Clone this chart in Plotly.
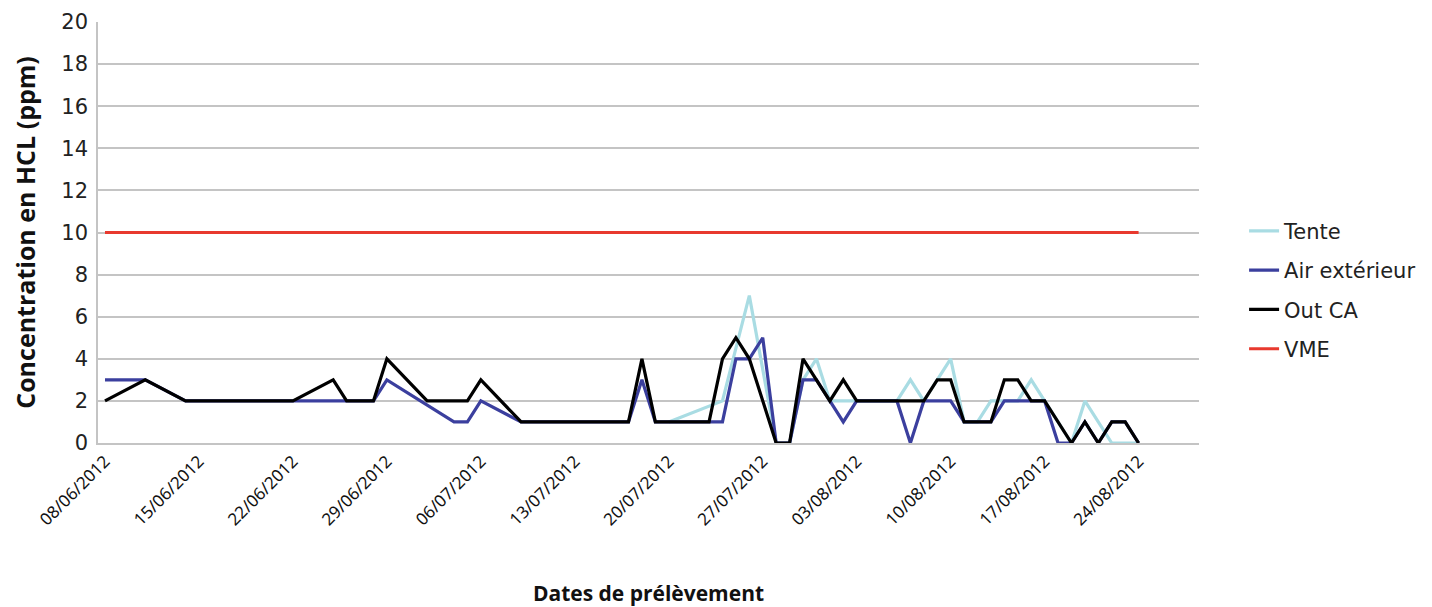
import plotly.graph_objects as go

# Sampling dates and concentrations (ppm)
tente_dates = ["2012-07-20", "2012-07-24", "2012-07-26", "2012-07-28", "2012-07-29",
               "2012-07-30", "2012-07-31", "2012-08-01", "2012-08-02", "2012-08-03",
               "2012-08-06", "2012-08-07", "2012-08-08", "2012-08-09", "2012-08-10",
               "2012-08-11", "2012-08-12", "2012-08-13", "2012-08-14", "2012-08-15",
               "2012-08-16", "2012-08-17", "2012-08-19", "2012-08-20", "2012-08-21",
               "2012-08-22", "2012-08-23", "2012-08-24"]
tente_values = [1, 2, 7, 0, 0, 3, 4, 2, 2, 2, 2, 3, 2, 3, 4, 1, 1, 2, 2, 2, 3, 2, 0, 2, 1, 0, 0, 0]

air_dates = ["2012-06-08", "2012-06-11", "2012-06-14", "2012-06-22", "2012-06-26",
             "2012-06-28", "2012-06-29", "2012-07-04", "2012-07-05", "2012-07-06",
             "2012-07-09", "2012-07-17", "2012-07-18", "2012-07-19", "2012-07-24",
             "2012-07-25", "2012-07-26", "2012-07-27", "2012-07-28", "2012-07-29",
             "2012-07-30", "2012-07-31", "2012-08-01", "2012-08-02", "2012-08-03",
             "2012-08-06", "2012-08-07", "2012-08-08", "2012-08-10", "2012-08-11",
             "2012-08-13", "2012-08-14", "2012-08-17", "2012-08-18", "2012-08-19",
             "2012-08-20", "2012-08-21", "2012-08-22", "2012-08-23", "2012-08-24"]
air_values = [3, 3, 2, 2, 2, 2, 3, 1, 1, 2, 1, 1, 3, 1, 1, 4, 4, 5, 0, 0,
              3, 3, 2, 1, 2, 2, 0, 2, 2, 1, 1, 2, 2, 0, 0, 1, 0, 1, 1, 0]

outca_dates = ["2012-06-08", "2012-06-11", "2012-06-14", "2012-06-22", "2012-06-25",
               "2012-06-26", "2012-06-28", "2012-06-29", "2012-07-02", "2012-07-05",
               "2012-07-06", "2012-07-09", "2012-07-17", "2012-07-18", "2012-07-19",
               "2012-07-23", "2012-07-24", "2012-07-25", "2012-07-26", "2012-07-27",
               "2012-07-28", "2012-07-29", "2012-07-30", "2012-08-01", "2012-08-02",
               "2012-08-03", "2012-08-08", "2012-08-09", "2012-08-10", "2012-08-11",
               "2012-08-13", "2012-08-14", "2012-08-15", "2012-08-16", "2012-08-17",
               "2012-08-19", "2012-08-20", "2012-08-21", "2012-08-22", "2012-08-23",
               "2012-08-24"]
outca_values = [2, 3, 2, 2, 3, 2, 2, 4, 2, 2, 3, 1, 1, 4, 1, 1, 4, 5, 4, 2,
                0, 0, 4, 2, 3, 2, 2, 3, 3, 1, 1, 3, 3, 2, 2, 0, 1, 0, 1, 1, 0]

vme_dates = ["2012-06-08", "2012-08-24"]
vme_values = [10, 10]

series = [
    ("Tente", tente_dates, tente_values, "#a9dce3"),
    ("Air extérieur", air_dates, air_values, "#3b3f9e"),
    ("Out CA", outca_dates, outca_values, "#000000"),
    ("VME", vme_dates, vme_values, "#e8392e"),
]

fig = go.Figure()
for name, dates, values, color in series:
    fig.add_trace(go.Scatter(
        x=dates, y=values, name=name, mode="lines",
        line=dict(color=color, width=3.2),
        legendgroup=name,
    ))

grid = "#c4c4c4"
# page body has an 8px margin, so the figure is sized to fit inside the window
fig.update_layout(
    width=1424, height=599,
    margin=dict(l=90, r=232, t=14, b=164),
    plot_bgcolor="white", paper_bgcolor="white",
    showlegend=True,
    legend=dict(
        x=1.04, y=0.363, xanchor="left", yanchor="middle",
        font=dict(family="DejaVu Sans", size=21, color="#222"),
        tracegroupgap=9,
    ),
    xaxis=dict(
        type="date", automargin=False,
        range=["2012-06-07 11:30", "2012-08-28 12:00"],
        tick0="2012-06-08", dtick=7 * 86400000,
        tickformat="%d/%m/%Y", tickangle=-45,
        tickfont=dict(family="Noto Sans", size=17, color="#111"),
        showgrid=False, showline=True, linecolor=grid, linewidth=1.5,
        title=dict(text="<b>Dates de prélèvement</b>", standoff=68,
                   font=dict(family="Open Sans", size=21, color="#111")),
    ),
    yaxis=dict(
        automargin=False,
        range=[0, 20], dtick=2,
        tickfont=dict(family="DejaVu Sans", size=21, color="#222"),
        ticklabelstandoff=4,
        showgrid=True, gridcolor=grid, gridwidth=1.5,
        showline=True, linecolor=grid, linewidth=1.5,
        zeroline=False,
        ticks="",
        title=dict(text="<b>Concentration en HCL (ppm)</b>", standoff=30,
                   font=dict(family="Open Sans", size=25, color="#111")),
    ),
)

fig.write_html("out.html")
